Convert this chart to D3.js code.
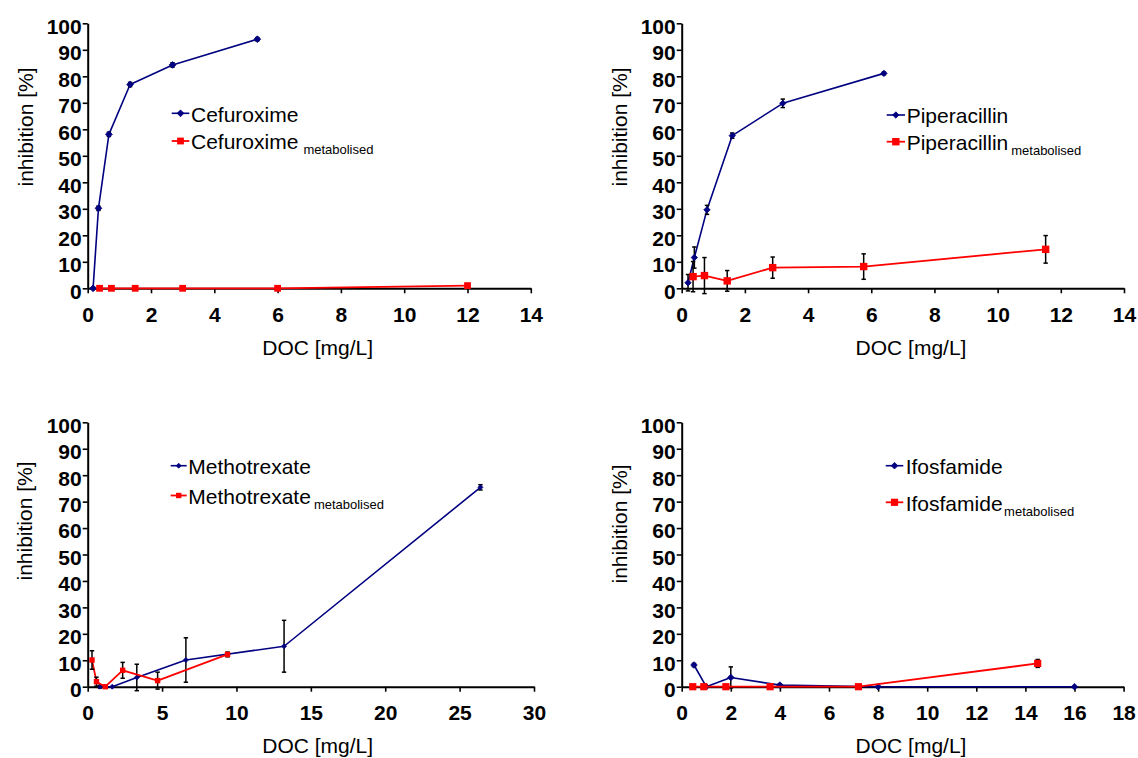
<!DOCTYPE html>
<html><head><meta charset="utf-8">
<script src="https://cdn.jsdelivr.net/npm/d3@7"></script>
<style>
body{margin:0;background:#fff}
svg{display:block}
text{font-family:"Liberation Sans", Arial, sans-serif}
</style>
</head><body>
<svg id="chart" width="1138" height="758"></svg>
<script>
// ---------------- DATA ----------------
const yTicks = [0, 10, 20, 30, 40, 50, 60, 70, 80, 90, 100];
const xTicks14 = [0, 2, 4, 6, 8, 10, 12, 14];
const xTicks30 = [0, 5, 10, 15, 20, 25, 30];
const xTicks18 = [0, 2, 4, 6, 8, 10, 12, 14, 16, 18];

const xTitle = "DOC [mg/L]";
const yTitle = "inhibition [%]";
const subLabel = "metabolised";

const cefuroximeDOC = [0.17, 0.34, 0.67, 1.34, 2.68, 5.36];
const cefuroximeInh = [0, 30.2, 58.1, 76.9, 84.3, 94.0];
const cefuroximeErr = [0.3, 0.8, 0.8, 0.8, 0.8, 0.6];
const cefuroximeMetDOC = [0.375, 0.75, 1.5, 3.0, 6.0, 12.0];
const cefuroximeMetInh = [0, 0, 0, 0, 0, 1.0];
const cefuroximeMetErr = [0, 0, 0, 0, 0, 0.8];

const piperacillinDOC = [0.2, 0.4, 0.8, 1.6, 3.2, 6.4];
const piperacillinInh = [2.1, 11.6, 29.6, 57.6, 69.8, 81.1];
const piperacillinErr = [3.1, 4.0, 1.7, 1.0, 1.6, 0.5];
const piperacillinMetDOC = [0.36, 0.72, 1.44, 2.88, 5.76, 11.52];
const piperacillinMetInh = [4.4, 4.8, 2.8, 7.8, 8.2, 14.7];
const piperacillinMetErr = [5.7, 6.8, 3.9, 4.0, 4.8, 5.2];

const methotrexateDOC = [0.82, 1.65, 3.3, 6.6, 13.2, 26.4];
const methotrexateInh = [0, 0, 3.5, 10.1, 15.3, 75.4];
const methotrexateErr = [0.5, 0, 5.0, 8.4, 9.8, 1.0];
const methotrexateMetDOC = [0.29, 0.59, 1.18, 2.35, 4.7, 9.4];
const methotrexateMetInh = [10.1, 1.9, 0, 6.2, 2.3, 12.2];
const methotrexateMetErr = [3.5, 1.7, 0.3, 3.0, 3.2, 0.9];

const ifosfamideDOC = [0.5, 1.0, 2.0, 4.0, 8.0, 16.0];
const ifosfamideInh = [8.2, 0, 3.5, 0.6, 0, 0];
const ifosfamideErr = [0.6, 0, 4.0, 0.5, 0, 0];
const ifosfamideMetDOC = [0.45, 0.9, 1.8, 3.6, 7.2, 14.5];
const ifosfamideMetInh = [0, 0, 0, 0, 0, 8.8];
const ifosfamideMetErr = [0, 0, 0, 0, 0, 1.5];

// ---------------- PANELS ----------------
const panels = [
  { drug: "Cefuroxime", xMax: 14, xTicks: xTicks14,
    series: [
      { x: cefuroximeDOC, y: cefuroximeInh, e: cefuroximeErr, type: "base" },
      { x: cefuroximeMetDOC, y: cefuroximeMetInh, e: cefuroximeMetErr, type: "met" }],
    lay: { x0: 87.7, x1: 530.8, y0: 288.3, y1: 23.3, ytx: 33, yty: 127, xtx: 317.7, xty: 355,
           lx0: 171.7, lx1: 189.3, tx: 191, r1: 113.3, r2: 141, gap: 5, dR: 3.4, sR: 3.4 } },
  { drug: "Piperacillin", xMax: 14, xTicks: xTicks14,
    series: [
      { x: piperacillinDOC, y: piperacillinInh, e: piperacillinErr, type: "base" },
      { x: piperacillinMetDOC, y: piperacillinMetInh, e: piperacillinMetErr, type: "met" }],
    lay: { x0: 681.7, x1: 1124, y0: 288.3, y1: 23.3, ytx: 627, yty: 127, xtx: 911, xty: 355,
           lx0: 886.7, lx1: 905, tx: 906.7, r1: 115, r2: 141.7, gap: 3, dR: 3.2, sR: 3.7 } },
  { drug: "Methotrexate", xMax: 30, xTicks: xTicks30,
    series: [
      { x: methotrexateDOC, y: methotrexateInh, e: methotrexateErr, type: "base" },
      { x: methotrexateMetDOC, y: methotrexateMetInh, e: methotrexateMetErr, type: "met" }],
    lay: { x0: 87.7, x1: 534, y0: 686.7, y1: 422.3, ytx: 32, yty: 521, xtx: 317.7, xty: 753,
           lx0: 170.7, lx1: 186.7, tx: 188.3, r1: 465.7, r2: 495.5, gap: 3, dR: 2.5, sR: 2.7 } },
  { drug: "Ifosfamide", xMax: 18, xTicks: xTicks18,
    series: [
      { x: ifosfamideDOC, y: ifosfamideInh, e: ifosfamideErr, type: "base" },
      { x: ifosfamideMetDOC, y: ifosfamideMetInh, e: ifosfamideMetErr, type: "met" }],
    lay: { x0: 681.7, x1: 1123.6, y0: 686.7, y1: 422.3, ytx: 627, yty: 524, xtx: 911, xty: 752.7,
           lx0: 885.7, lx1: 903.3, tx: 905.7, r1: 465.7, r2: 502.3, gap: 1.5, dR: 3.3, sR: 3.6 } }
];

const style = {
  base: { color: "#000080", width: 1.6 },
  met:  { color: "#ff0000", width: 1.8 }
};

const svg = d3.select("#chart");

function drawMarker(g, type, cx, cy, L) {
  if (type === "base") {
    const r = L.dR;
    g.append("path")
      .attr("d", `M${cx},${cy - r}L${cx + r},${cy}L${cx},${cy + r}L${cx - r},${cy}Z`)
      .attr("fill", style.base.color).attr("stroke", style.base.color).attr("stroke-width", 0.8);
  } else {
    const r = L.sR;
    g.append("rect").attr("x", cx - r).attr("y", cy - r)
      .attr("width", 2 * r).attr("height", 2 * r).attr("fill", style.met.color);
  }
}

panels.forEach(p => {
  const L = p.lay;
  const g = svg.append("g");
  const xs = d3.scaleLinear().domain([0, p.xMax]).range([L.x0, L.x1]);
  const ys = d3.scaleLinear().domain([0, 100]).range([L.y0, L.y1]);

  // axes
  const xa = g.append("g").attr("transform", `translate(0,${L.y0})`)
    .call(d3.axisBottom(xs).tickValues(p.xTicks).tickSize(5).tickSizeOuter(0).tickPadding(13.5).tickFormat(d3.format("d")));
  const ya = g.append("g").attr("transform", `translate(${L.x0},0)`)
    .call(d3.axisLeft(ys).tickValues(yTicks).tickSize(5).tickSizeOuter(0).tickPadding(1).tickFormat(d3.format("d")));
  [xa, ya].forEach(a => {
    a.attr("font-family", null).attr("font-size", null);
    a.select(".domain").attr("stroke", "#000").attr("stroke-width", 2);
    a.selectAll(".tick line").attr("stroke", "#000").attr("stroke-width", 1.6);
    a.selectAll(".tick text").attr("fill", "#000").style("font-size", "21px").style("font-weight", "bold");
  });
  ya.selectAll(".tick text").attr("dy", "0.47em");

  // axis titles
  g.append("text").attr("x", L.xtx).attr("y", L.xty).attr("text-anchor", "middle")
    .style("font-size", "21px").text(xTitle);
  g.append("text").attr("transform", `translate(${L.ytx},${L.yty}) rotate(-90)`)
    .attr("text-anchor", "middle").style("font-size", "21px").text(yTitle);

  // series
  p.series.forEach(s => {
    const st = style[s.type];
    const idx = d3.range(s.x.length);
    const line = d3.line().x(i => xs(s.x[i])).y(i => ys(s.y[i]));
    g.append("path").attr("d", line(idx)).attr("fill", "none")
      .attr("stroke", st.color).attr("stroke-width", st.width).attr("stroke-linejoin", "round");
    // error bars
    idx.forEach(i => {
      if (!s.e[i]) return;
      const cx = xs(s.x[i]);
      const yt = ys(s.y[i] + s.e[i]), yb = ys(s.y[i] - s.e[i]);
      g.append("line").attr("x1", cx).attr("x2", cx).attr("y1", yt).attr("y2", yb)
        .attr("stroke", "#000").attr("stroke-width", 1.5);
      [yt, yb].forEach(yy => g.append("line").attr("x1", cx - 2.2).attr("x2", cx + 2.2)
        .attr("y1", yy).attr("y2", yy).attr("stroke", "#000").attr("stroke-width", 1.5));
    });
    idx.forEach(i => drawMarker(g, s.type, xs(s.x[i]), ys(s.y[i]), L));
  });

  // legend
  [["base", L.r1], ["met", L.r2]].forEach(([type, ry]) => {
    const st = style[type];
    g.append("line").attr("x1", L.lx0).attr("x2", L.lx1).attr("y1", ry).attr("y2", ry)
      .attr("stroke", st.color).attr("stroke-width", st.width);
    drawMarker(g, type, (L.lx0 + L.lx1) / 2, ry, L);
    const t = g.append("text").attr("x", L.tx).attr("y", ry + 8.3).style("font-size", "21px");
    t.append("tspan").text(p.drug);
    if (type === "met") {
      t.append("tspan").attr("dx", L.gap).attr("dy", 5).style("font-size", "13px").text(subLabel);
    }
  });
});
</script>
</body></html>
